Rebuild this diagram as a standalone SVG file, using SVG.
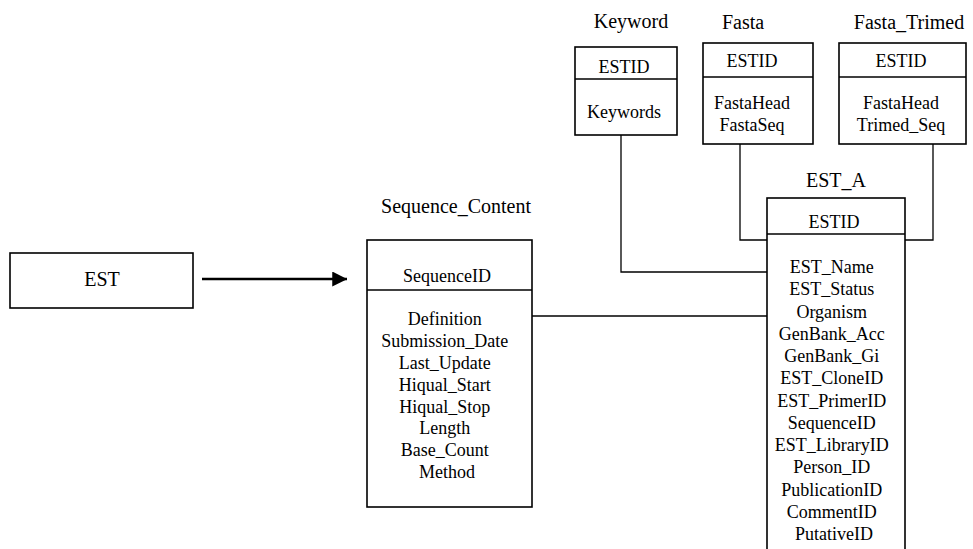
<svg xmlns="http://www.w3.org/2000/svg" width="973" height="549" viewBox="0 0 973 549">
  <defs>
    <style>
      .box { fill: #fff; stroke: #000; stroke-width: 1.6; }
      .div { stroke: #000; stroke-width: 1.4; fill: none; }
      .link { stroke: #000; stroke-width: 1.3; fill: none; }
      text { font-family: "Liberation Serif", "Times New Roman", serif; fill: #000; text-anchor: middle; }
      .title { font-size: 20px; }
      .field { font-size: 18px; }
    </style>
    <marker id="arrowhead" markerWidth="6" markerHeight="6" refX="5.9" refY="3" orient="auto" markerUnits="strokeWidth">
      <path d="M0,0 L6,3 L0,6 Z" fill="#000"/>
    </marker>
  </defs>
  <rect width="973" height="549" fill="#fff"/>

  <!-- connectors -->
  <g id="connectors">
    <line x1="202" y1="279" x2="347" y2="279" stroke="#000" stroke-width="2.5" marker-end="url(#arrowhead)"/>
    <polyline class="link" points="532,316 767,316"/>
    <polyline class="link" points="621,135 621,272 767,272"/>
    <polyline class="link" points="740,144 740,240 767,240"/>
    <polyline class="link" points="933,144 933,240 905,240"/>
  </g>

  <!-- EST -->
  <g id="est">
    <rect class="box" x="10" y="253" width="183" height="55"/>
    <text class="title" x="102" y="286">EST</text>
  </g>

  <!-- Sequence_Content -->
  <g id="sequence-content">
    <text class="title" x="456" y="213">Sequence_Content</text>
    <rect class="box" x="367" y="240" width="165" height="267"/>
    <line class="div" x1="367" y1="290" x2="532" y2="290"/>
    <text class="field" x="447" y="282">SequenceID</text>
    <text class="field" x="447">
      <tspan x="447" y="325">Definition</tspan>
      <tspan x="447" y="347">Submission_Date</tspan>
      <tspan x="447" y="369">Last_Update</tspan>
      <tspan x="447" y="391">Hiqual_Start</tspan>
      <tspan x="447" y="413">Hiqual_Stop</tspan>
      <tspan x="447" y="434">Length</tspan>
      <tspan x="447" y="456">Base_Count</tspan>
      <tspan x="447" y="478">Method</tspan>
    </text>
  </g>

  <!-- Keyword -->
  <g id="keyword">
    <text class="title" x="631" y="28">Keyword</text>
    <rect class="box" x="575" y="47" width="102" height="88"/>
    <line class="div" x1="575" y1="79" x2="677" y2="79"/>
    <text class="field" x="624" y="73">ESTID</text>
    <text class="field" x="624" y="118">Keywords</text>
  </g>

  <!-- Fasta -->
  <g id="fasta">
    <text class="title" x="743" y="29">Fasta</text>
    <rect class="box" x="703" y="43" width="110" height="101"/>
    <line class="div" x1="703" y1="77" x2="813" y2="77"/>
    <text class="field" x="752" y="67">ESTID</text>
    <text class="field" x="752" y="109">FastaHead</text>
    <text class="field" x="752" y="131">FastaSeq</text>
  </g>

  <!-- Fasta_Trimed -->
  <g id="fasta-trimed">
    <text class="title" x="909" y="29">Fasta_Trimed</text>
    <rect class="box" x="839" y="43" width="127" height="101"/>
    <line class="div" x1="839" y1="77" x2="966" y2="77"/>
    <text class="field" x="901" y="67">ESTID</text>
    <text class="field" x="901" y="109">FastaHead</text>
    <text class="field" x="901" y="131">Trimed_Seq</text>
  </g>

  <!-- EST_A -->
  <g id="est-a">
    <text class="title" x="836" y="187">EST_A</text>
    <rect class="box" x="767" y="198" width="138" height="370"/>
    <line class="div" x1="767" y1="234" x2="905" y2="234"/>
    <text class="field" x="834" y="228">ESTID</text>
    <text class="field">
      <tspan x="834" y="273">EST_Name</tspan>
      <tspan x="834" y="295">EST_Status</tspan>
      <tspan x="834" y="318">Organism</tspan>
      <tspan x="834" y="340">GenBank_Acc</tspan>
      <tspan x="834" y="362">GenBank_Gi</tspan>
      <tspan x="834" y="384">EST_CloneID</tspan>
      <tspan x="834" y="407">EST_PrimerID</tspan>
      <tspan x="834" y="429">SequenceID</tspan>
      <tspan x="834" y="451">EST_LibraryID</tspan>
      <tspan x="834" y="473">Person_ID</tspan>
      <tspan x="834" y="496">PublicationID</tspan>
      <tspan x="834" y="518">CommentID</tspan>
      <tspan x="834" y="540">PutativeID</tspan>
    </text>
  </g>
</svg>
